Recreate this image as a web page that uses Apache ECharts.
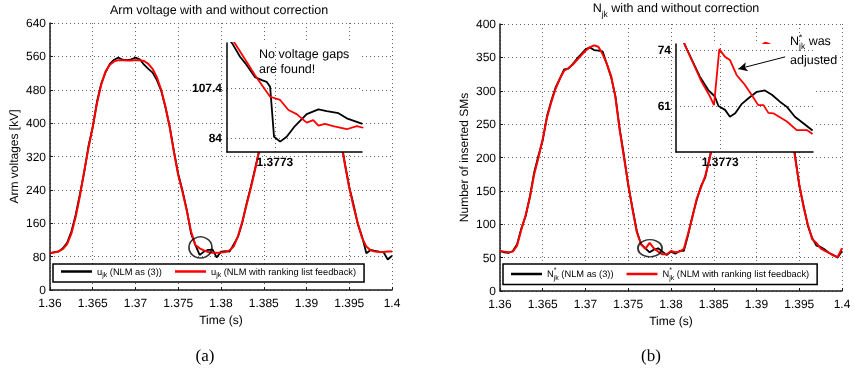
<!DOCTYPE html>
<html>
<head>
<meta charset="utf-8">
<script src="https://cdn.jsdelivr.net/npm/echarts@6/dist/echarts.min.js"></script>
<style>
  html, body { margin: 0; padding: 0; background: #fff; }
  #chart { width: 854px; height: 380px; }
  #chart svg { will-change: transform; text-rendering: geometricPrecision; -webkit-font-smoothing: antialiased; }
</style>
</head>
<body>
<div id="chart"></div>
<script>
// Sample times (s) shared by the four main traces
const timeGrid = [
  1.3600, 1.3605, 1.3610, 1.3615, 1.3620, 1.3625, 1.3630, 1.3635, 1.3640, 1.3645,
  1.3650, 1.3655, 1.3660, 1.3665, 1.3670, 1.3675, 1.3680, 1.3685, 1.3690, 1.3695,
  1.3700, 1.3705, 1.3710, 1.3715, 1.3720, 1.3725, 1.3730, 1.3735, 1.3740, 1.3745,
  1.3750, 1.3755, 1.3760, 1.3765, 1.3770, 1.3775, 1.3780, 1.3785, 1.3790, 1.3795,
  1.3800, 1.3805, 1.3810, 1.3815, 1.3820, 1.3825, 1.3830, 1.3835, 1.3840, 1.3845,
  1.3850, 1.3855, 1.3860, 1.3865, 1.3870, 1.3875, 1.3880, 1.3885, 1.3890, 1.3895,
  1.3900, 1.3905, 1.3910, 1.3915, 1.3920, 1.3925, 1.3930, 1.3935, 1.3940, 1.3945,
  1.3950, 1.3955, 1.3960, 1.3965, 1.3970, 1.3975, 1.3980, 1.3985, 1.3990, 1.3995,
  1.4000
];

// Arm voltage u_jk [kV]
const armVoltageBasic = [
  88, 91, 92, 100, 113, 140, 180, 230, 282, 345,
  390, 452, 495, 522, 542, 552, 557, 552, 551, 553,
  557, 553, 540, 530, 521, 503, 478, 438, 392, 332,
  278, 238, 192, 135, 108, 84, 92, 96, 97, 78,
  92, 93, 92, 110, 128, 162, 208, 248, 292, 336,
  390, 450, 495, 522, 542, 552, 556, 552, 551, 553,
  556, 552, 542, 533, 519, 488, 453, 408, 362, 302,
  247, 205, 158, 128, 88, 96, 94, 92, 91, 73,
  82
];
const armVoltageRanked = [
  89, 90, 93, 98, 110, 135, 175, 225, 285, 340,
  392, 448, 493, 524, 540, 548, 551, 551, 550, 550,
  551, 551, 549, 542, 530, 510, 480, 440, 390, 330,
  275, 235, 190, 140, 108, 100, 95, 91, 89, 89,
  90, 91, 95, 105, 130, 165, 205, 245, 290, 338,
  392, 448, 493, 524, 540, 548, 551, 551, 550, 550,
  551, 550, 546, 535, 517, 490, 455, 410, 360, 300,
  245, 200, 160, 125, 104, 95, 92, 91, 91, 92,
  92
];

// Number of inserted SMs N*_jk
const insertedBasic = [
  60, 58, 57, 60, 70, 94, 112, 142, 178, 203,
  226, 262, 285, 305, 318, 332, 333, 340, 348, 355,
  362, 365, 361, 360, 359, 340, 320, 292, 243, 203,
  158, 124, 90, 70, 64, 58, 62, 64, 59, 54,
  59, 56, 60, 60, 84, 112, 136, 157, 170, 199,
  226, 262, 286, 306, 318, 333, 335, 341, 350, 357,
  362, 366, 364, 362, 360, 343, 322, 297, 250, 204,
  158, 128, 98, 80, 68, 66, 62, 57, 54, 50,
  60
];
const insertedRanked = [
  60, 59, 58, 59, 68, 92, 114, 140, 175, 200,
  228, 260, 283, 303, 318, 330, 334, 339, 346, 353,
  360, 365, 368, 366, 355, 340, 322, 290, 241, 200,
  160, 122, 88, 70, 63, 72, 64, 59, 55, 55,
  60, 58, 59, 63, 86, 110, 138, 155, 172, 197,
  228, 261, 284, 305, 320, 332, 337, 342, 349, 356,
  362, 367, 372, 370, 358, 343, 325, 295, 248, 201,
  160, 126, 100, 78, 72, 64, 60, 57, 53, 51,
  64
];

// Close-up around t = 1.3773 s: arm voltage
const detailUTimeBasic = [1.37620, 1.37632, 1.37650, 1.37665, 1.37684, 1.37700, 1.37711, 1.37719, 1.37728,
  1.37742, 1.37757, 1.37776, 1.37803, 1.37830, 1.37849, 1.37876, 1.37895, 1.37931];
const detailUBasic = [131, 128.3, 122.0, 118.2, 112.5, 111.1, 110.3, 108.0, 84.6,
  82.3, 84.6, 89.6, 95.2, 97.4, 96.6, 95.6, 93.2, 90.6];
const detailUTimeRanked = [1.37630, 1.37638, 1.37665, 1.37684, 1.37700, 1.37719, 1.37742, 1.37761, 1.37780,
  1.37803, 1.37818, 1.37830, 1.37845, 1.37864, 1.37895, 1.37918, 1.37933];
const detailURanked = [131, 128.3, 119.7, 113.5, 108.8, 103.3, 101.8, 97.1, 95.2,
  91.2, 92.4, 89.8, 90.6, 89.6, 88.1, 89.6, 88.8];

// Close-up around t = 1.3773 s: inserted SMs
const detailNTimeBasic = [1.37640, 1.37650, 1.37666, 1.37684, 1.37703, 1.37718, 1.37726, 1.37741, 1.37752, 1.37764,
  1.37779, 1.37794, 1.37813, 1.37831, 1.37847, 1.37865, 1.37881, 1.37899, 1.37918, 1.37939];
const detailNBasic = [78, 75.2, 71.7, 67.8, 64.7, 63.2, 61.0, 60.1, 58.5, 59.3,
  61.5, 62.8, 64.3, 64.6, 63.6, 62.0, 60.8, 58.5, 57.0, 55.3];
const detailNTimeRanked = [1.37640, 1.37650, 1.37669, 1.37688, 1.37707, 1.37716, 1.37728, 1.37741, 1.37752, 1.37767,
  1.37786, 1.37801, 1.37816, 1.37828, 1.37839, 1.37850, 1.37881, 1.37903, 1.37926, 1.37939];
const detailNRanked = [78, 75.2, 70.9, 66.6, 63.2, 61.2, 74.2, 72.4, 71.7, 68.2,
  65.9, 63.6, 61.2, 61.2, 59.4, 59.3, 57.4, 55.4, 55.4, 54.5];

// Tick values of the close-up axes
const detailTimeTicks = [1.3773];
const detailUTicks = [84, 107.4];
const detailNTicks = [61, 74];

// Marked region on each main plot and the pointer in the N close-up
const markedSpotU = [1.3776, 102];
const markedSpotN = [1.37754, 64];
const pointerTail = [1.37877, 72.4];
const pointerHead = [1.37771, 69.6];

const FONT = '"Liberation Sans", Arial, Helvetica, sans-serif';
const SERIF = '"Liberation Serif", "Times New Roman", serif';
const gridLine = () => ({ show: true, lineStyle: { color: '#666', width: 1, type: [1, 3] } });

const zip = (xs, ys) => xs.map((x, i) => [x, ys[i]]);
const fmtTime = v => String(parseFloat(Number(v).toFixed(4)));

const chart = echarts.init(document.getElementById('chart'), null, { renderer: 'svg' });

function mainX(gridIndex) {
  return {
    gridIndex, type: 'value', min: 1.36, max: 1.4, interval: 0.005,
    name: 'Time (s)', nameLocation: 'middle', nameGap: 19,
    nameTextStyle: { color: '#000', fontSize: 12, fontFamily: FONT },
    axisLine: { show: true, onZero: false, lineStyle: { color: '#1a1a1a', width: 1.5 } },
    axisTick: { show: true, inside: true, length: 3, lineStyle: { color: '#1a1a1a', width: 1 } },
    axisLabel: { color: '#000', fontSize: 12, lineHeight: 12, fontFamily: FONT, margin: 7, formatter: fmtTime },
    splitLine: gridLine()
  };
}
function mainY(gridIndex, max, interval, name) {
  return {
    gridIndex, type: 'value', min: 0, max, interval,
    name, nameLocation: 'middle', nameGap: 30,
    nameTextStyle: { color: '#000', fontSize: 12, fontFamily: FONT },
    axisLine: { show: true, onZero: false, lineStyle: { color: '#1a1a1a', width: 1.5 } },
    axisTick: { show: true, inside: true, length: 3, lineStyle: { color: '#1a1a1a', width: 1 } },
    axisLabel: { color: '#000', fontSize: 12, lineHeight: 12, fontFamily: FONT, margin: 4 },
    splitLine: gridLine()
  };
}
function detailX(gridIndex, min, max) {
  return {
    gridIndex, type: 'value', min, max, z: 11,
    axisLine: { show: true, onZero: false, lineStyle: { color: '#000', width: 1.5 } },
    axisTick: { show: false, customValues: detailTimeTicks },
    axisLabel: { customValues: detailTimeTicks, color: '#000', fontSize: 12, fontWeight: 'bold', fontFamily: FONT, margin: 4, formatter: fmtTime },
    splitLine: gridLine()
  };
}
function detailY(gridIndex, min, max, ticks) {
  return {
    gridIndex, type: 'value', min, max, z: 11,
    axisLine: { show: true, onZero: false, lineStyle: { color: '#000', width: 1.5 } },
    axisTick: { show: false, customValues: ticks },
    axisLabel: { customValues: ticks, color: '#000', fontSize: 12, fontWeight: 'bold', fontFamily: FONT, margin: 5 },
    splitLine: gridLine()
  };
}
function trace(name, xi, data, color, width, z) {
  return {
    name, type: 'line', xAxisIndex: xi, yAxisIndex: xi, data,
    showSymbol: false, symbol: 'none', z,
    lineStyle: { color, width }, itemStyle: { color },
    animation: false
  };
}
function ring(xi, spot, size) {
  return {
    type: 'scatter', xAxisIndex: xi, yAxisIndex: xi, data: [spot], z: 6,
    symbol: 'circle', symbolSize: size, silent: true,
    itemStyle: { color: 'rgba(0,0,0,0)', borderColor: '#000', borderWidth: 1.6 },
    animation: false
  };
}

const subRich = {
  b: { fontSize: 9.3, fontFamily: FONT, color: '#000' },
  s: { fontSize: 7, fontFamily: FONT, color: '#000', padding: [8, 0, 0, 0] },
  p: { fontSize: 7, fontFamily: FONT, color: '#000', padding: [0, 0, 7, 0], width: 0 }
};
const legendText = {
  'u NLM': '{b|u}{s|jk}{b| (NLM as (3))}',
  'u ranked': '{b|u}{s|jk}{b| (NLM with ranking list feedback)}',
  'N NLM': '{b|N}{p|*}{s|jk}{b| (NLM as (3))}',
  'N ranked': '{b|N}{p|*}{s|jk}{b| (NLM with ranking list feedback)}'
};
function legendBox(names, left) {
  return {
    data: names, left, top: 264, orient: 'horizontal',
    icon: 'rect', itemWidth: 31, itemHeight: 2.5, itemGap: 13,
    padding: [3, 8, 3, 8], borderColor: '#000', borderWidth: 1.5, borderRadius: 0,
    backgroundColor: '#fff', selectedMode: false,
    textStyle: { fontSize: 9.3, fontFamily: FONT, color: '#000', rich: subRich },
    formatter: n => legendText[n]
  };
}

const option = {
  animation: false,
  backgroundColor: '#fff',
  title: [
    {
      text: 'Arm voltage with and without correction', left: 219, top: 3, padding: 0,
      textAlign: 'center',
      textStyle: { fontSize: 12.5, fontWeight: 'normal', fontFamily: FONT, color: '#000' }
    },
    {
      text: '{b|N}{s|jk}{b| with and without correction}', left: 676, top: -3, padding: 0,
      textAlign: 'center',
      textStyle: {
        fontSize: 12.5, fontWeight: 'normal', fontFamily: FONT, color: '#000',
        rich: {
          b: { fontSize: 12.5, fontFamily: FONT, color: '#000' },
          s: { fontSize: 8.5, fontFamily: FONT, color: '#000', padding: [12, 0, 0, 0] }
        }
      }
    }
  ],
  grid: [
    { left: 50, top: 23, width: 342, height: 267, outerBoundsMode: 'none', containLabel: false },
    { left: 500, top: 24, width: 342, height: 267, outerBoundsMode: 'none', containLabel: false },
    { left: 227, top: 43, width: 135, height: 109, show: true, backgroundColor: '#fff', borderWidth: 0, z: 10, outerBoundsMode: 'none', containLabel: false },
    { left: 676, top: 44, width: 137, height: 108, show: true, backgroundColor: '#fff', borderWidth: 0, z: 10, outerBoundsMode: 'none', containLabel: false }
  ],
  xAxis: [
    mainX(0), mainX(1),
    detailX(2, 1.3762, 1.3793),
    detailX(3, 1.3763, 1.3794)
  ],
  yAxis: [
    mainY(0, 640, 80, 'Arm voltages [kV]'),
    mainY(1, 400, 50, 'Number of inserted SMs'),
    detailY(2, 77.45, 128.46, detailUTicks),
    detailY(3, 50.32, 75.39, detailNTicks)
  ],
  legend: [
    legendBox(['u NLM', 'u ranked'], 53),
    legendBox(['N NLM', 'N ranked'], 503)
  ],
  series: [
    trace('u NLM', 0, zip(timeGrid, armVoltageBasic), '#000', 1.8, 2),
    trace('u ranked', 0, zip(timeGrid, armVoltageRanked), '#ff0000', 2, 3),
    trace('N NLM', 1, zip(timeGrid, insertedBasic), '#000', 1.8, 2),
    trace('N ranked', 1, zip(timeGrid, insertedRanked), '#ff0000', 2, 3),
    ring(0, markedSpotU, [23, 21]),
    ring(1, markedSpotN, [24, 17]),
    trace('u NLM detail', 2, zip(detailUTimeBasic, detailUBasic), '#000', 1.8, 12),
    trace('u ranked detail', 2, zip(detailUTimeRanked, detailURanked), '#ff0000', 1.8, 13),
    trace('N NLM detail', 3, zip(detailNTimeBasic, detailNBasic), '#000', 1.8, 12),
    Object.assign(trace('N ranked detail', 3, zip(detailNTimeRanked, detailNRanked), '#ff0000', 1.8, 13), {
      markLine: {
        silent: true, z: 20, symbol: ['none', 'arrow'], symbolSize: [7, 9],
        lineStyle: { color: '#000', width: 1, type: 'solid' },
        label: { show: false },
        data: [[{ coord: pointerTail }, { coord: pointerHead }]]
      }
    })
  ],
  graphic: [
    {
      type: 'text', left: 259, top: 46, z: 20, silent: true,
      style: { text: 'No voltage gaps\nare found!', fill: '#000', fontSize: 12.5, fontFamily: FONT, lineHeight: 15 }
    },
    {
      type: 'text', left: 790, top: 32, z: 20, silent: true,
      style: {
        text: '{b|N}{p|*}{s|jk}{b| was}\n{c|adjusted}', fill: '#000', fontSize: 12.5, fontFamily: FONT,
        rich: {
          b: { fontSize: 12.5, fontFamily: FONT, fill: '#000', lineHeight: 15 },
          c: { fontSize: 12.5, fontFamily: FONT, fill: '#000', lineHeight: 19 },
          s: { fontSize: 8.5, fontFamily: FONT, fill: '#000', padding: [10, 0, 0, 0] },
          p: { fontSize: 8.5, fontFamily: FONT, fill: '#000', padding: [0, 0, 8, 0], width: 0 }
        }
      }
    },
    {
      type: 'text', x: 205, y: 355, silent: true,
      style: { text: '(a)', fill: '#000', fontSize: 17, fontFamily: SERIF, align: 'center', verticalAlign: 'middle' }
    },
    {
      type: 'text', x: 651, y: 355, silent: true,
      style: { text: '(b)', fill: '#000', fontSize: 17, fontFamily: SERIF, align: 'center', verticalAlign: 'middle' }
    }
  ]
};

chart.setOption(option);
</script>
</body>
</html>
